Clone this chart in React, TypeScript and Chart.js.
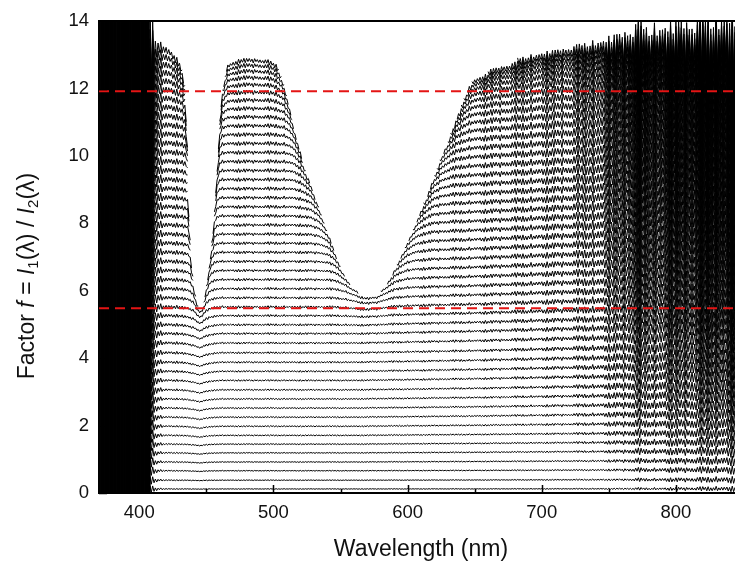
import React, { useEffect, useRef } from "react";
import { Chart, registerables } from "chart.js";

Chart.register(...registerables);

// ---------- data ----------
const xRange = [370, 850]; // nm
const xMajorTicks = [400, 500, 600, 700, 800];
const xMinorTicks = [450, 550, 650, 750];
const yMajorTicks = [0, 2, 4, 6, 8, 10, 12, 14];

// flat level of each measured curve (factor f)
const curveLevels = [
  0.12, 0.38, 0.66, 0.92, 1.19, 1.45, 1.71, 1.98, 2.25, 2.52, 2.79, 3.06, 3.34,
  3.61, 3.88, 4.16, 4.45, 4.73, 4.99, 5.26, 5.52, 5.79, 6.06, 6.33, 6.6, 6.87,
  7.14, 7.41, 7.68, 7.95, 8.22, 8.49, 8.76, 9.03, 9.3, 9.57, 9.84, 10.11, 10.38,
  10.65, 10.92, 11.19, 11.46, 11.73, 12.0, 12.27, 12.54, 12.81, 13.08, 13.35,
];

// upper limit where the curves bend down and stop (edges of the notches)
const capWavelengths = [
  370, 405, 412, 418, 424, 430, 434, 436, 437, 439, 441, 443, 445, 447, 449, 452,
  455, 458, 460, 462, 466, 476, 486, 496, 502, 506, 510, 516, 524, 533, 540, 546,
  552, 558, 565, 571, 578, 586, 595, 605, 615, 625, 635, 642, 648, 660, 680, 700,
  720, 750, 780, 850,
];
const capValues = [
  16, 16, 15, 14.6, 13.9, 13.2, 12.4, 10.5, 8.5, 7.0, 6.2, 5.75, 5.6, 5.65, 6.0,
  6.8, 8.0, 9.8, 11.3, 12.3, 13.1, 13.45, 13.45, 13.35, 13.1, 12.7, 12.1, 11.0,
  9.8, 8.8, 8.0, 7.3, 6.7, 6.3, 6.05, 5.98, 6.05, 6.45, 7.2, 8.1, 9.1, 10.2,
  11.2, 12.0, 12.5, 12.8, 13.1, 13.35, 13.55, 13.8, 14.0, 14.1,
];
const capCutRatio = 1.04;

// gentle wavelength dependence of the curves
const tiltWavelengths = [370, 430, 440, 445, 450, 458, 560, 650, 720, 760, 850];
const tiltValues = [1.0, 1.0, 0.985, 0.97, 0.985, 1.0, 1.0, 1.015, 1.03, 1.035, 1.035];

// noise amplitude (absolute + relative to f) along the spectrum
const noiseWavelengths = [
  370, 403, 406, 408, 411, 416, 425, 440, 460, 560, 650, 720, 745, 760, 772, 778,
  790, 810, 830, 850,
];
const noiseRelative = [
  4, 4, 1.0, 0.1, 0.03, 0.012, 0.008, 0.006, 0.005, 0.005, 0.007, 0.013, 0.022,
  0.035, 0.06, 0.04, 0.05, 0.06, 0.075, 0.09,
];
const noiseAbsolute = [
  200, 200, 20, 0.12, 0.08, 0.03, 0.012, 0.01, 0.01, 0.01, 0.01, 0.012, 0.015,
  0.02, 0.035, 0.03, 0.04, 0.05, 0.065, 0.08,
];
// relative size of the spectral noise spikes (same for every curve)
const jitterShape = [
  1, 0.5, 0.8, 0.35, 0.9, 0.6, 0.4, 0.75, 1, 0.45, 0.65, 0.85, 0.5, 0.7, 0.38,
  0.95, 0.55, 0.8, 0.42, 0.6, 0.88, 0.5, 0.98,
];

// red dashed reference levels
const referenceLevels = [11.92, 5.48];

const sampleStepNm = 1;
const bendSharpness = 16;

// ---------- helpers ----------
function interp(xs: number[], ys: number[], x: number): number {
  if (x <= xs[0]) return ys[0];
  for (let i = 1; i < xs.length; i++) {
    if (x <= xs[i]) {
      const t = (x - xs[i - 1]) / (xs[i] - xs[i - 1]);
      return ys[i - 1] + t * (ys[i] - ys[i - 1]);
    }
  }
  return ys[ys.length - 1];
}

const FONT = "'Liberation Sans', Arial, Helvetica, sans-serif";

function buildDatasets() {
  const wl: number[] = [];
  for (let w = xRange[0]; w <= xRange[1]; w += sampleStepNm) wl.push(w);
  const sets: any[] = [];
  curveLevels.forEach((level) => {
    const pts = wl.map((w, j) => {
      const base = level * interp(tiltWavelengths, tiltValues, w);
      const cap = interp(capWavelengths, capValues, w);
      const r = base / cap;
      if (r > capCutRatio) return { x: w, y: null };
      const f = base / Math.pow(1 + Math.pow(r, bendSharpness), 1 / bendSharpness);
      const amp =
        interp(noiseWavelengths, noiseAbsolute, w) +
        interp(noiseWavelengths, noiseRelative, w) * f;
      const sign = j % 2 === 0 ? 1 : -1;
      const s = sign * jitterShape[(j * 7) % jitterShape.length];
      return { x: w, y: f + amp * s };
    });
    sets.push({
      data: pts,
      borderColor: "#000",
      borderWidth: 1,
      pointRadius: 0,
      tension: 0,
      fill: false,
      spanGaps: false,
      order: 1,
    });
  });
  referenceLevels.forEach((v) => {
    sets.push({
      data: [
        { x: xRange[0], y: v },
        { x: xRange[1], y: v },
      ],
      borderColor: "rgb(228,20,20)",
      borderWidth: 2,
      borderDash: [10, 6],
      pointRadius: 0,
      fill: false,
      order: 0,
    });
  });
  return sets;
}

const tickMarksPlugin = {
  id: "tickMarks",
  afterDatasetsDraw(chart: any) {
    const { ctx, chartArea, scales } = chart;
    const x = scales.x;
    const y = scales.y;
    ctx.save();
    ctx.strokeStyle = "#000";
    ctx.lineWidth = 1.5;
    ctx.beginPath();
    xMajorTicks.forEach((v) => {
      const px = Math.round(x.getPixelForValue(v)) + 0.5;
      ctx.moveTo(px, chartArea.bottom);
      ctx.lineTo(px, chartArea.bottom - 8);
    });
    xMinorTicks.forEach((v) => {
      const px = Math.round(x.getPixelForValue(v)) + 0.5;
      ctx.moveTo(px, chartArea.bottom);
      ctx.lineTo(px, chartArea.bottom - 4);
    });
    yMajorTicks.forEach((v) => {
      const py = Math.round(y.getPixelForValue(v)) + 0.5;
      ctx.moveTo(chartArea.left, py);
      ctx.lineTo(chartArea.left + 8, py);
    });
    ctx.stroke();
    ctx.restore();
  },
};

const yTitlePlugin = {
  id: "yTitle",
  afterDraw(chart: any) {
    const { ctx } = chart;
    const size = 23;
    const sub = 15;
    const parts: { t: string; italic?: boolean; sub?: boolean }[] = [
      { t: "Factor " },
      { t: "f", italic: true },
      { t: " = " },
      { t: "I", italic: true },
      { t: "1", sub: true },
      { t: "(λ) / " },
      { t: "I", italic: true },
      { t: "2", sub: true },
      { t: "(λ)" },
    ];
    const fontFor = (p: any) =>
      `${p.italic ? "italic " : ""}${p.sub ? sub : size}px ${FONT}`;
    ctx.save();
    let total = 0;
    const widths = parts.map((p) => {
      ctx.font = fontFor(p);
      const w = ctx.measureText(p.t).width;
      total += w;
      return w;
    });
    ctx.translate(26, 276);
    ctx.rotate(-Math.PI / 2);
    ctx.fillStyle = "#111";
    ctx.textBaseline = "alphabetic";
    let cx = -total / 2;
    parts.forEach((p, i) => {
      ctx.font = fontFor(p);
      ctx.fillText(p.t, cx, p.sub ? 12 : 8);
      cx += widths[i];
    });
    ctx.restore();
  },
};

export default function App() {
  const ref = useRef<HTMLCanvasElement | null>(null);
  useEffect(() => {
    if (!ref.current) return;
    const chart = new Chart(ref.current, {
      type: "line",
      data: { datasets: buildDatasets() },
      options: {
        responsive: false,
        animation: false,
        events: [],
        layout: { padding: { left: 0, right: 17, top: 19, bottom: 0 } },
        plugins: {
          legend: { display: false },
          tooltip: { enabled: false },
          title: { display: false },
        },
        scales: {
          x: {
            type: "linear",
            position: "bottom",
            min: xRange[0],
            max: xRange[1],
            grid: { display: false, drawTicks: false },
            border: { display: true, color: "#000", width: 2 },
            afterBuildTicks: (s: any) => {
              s.ticks = xMajorTicks.map((v) => ({ value: v }));
            },
            afterFit: (s: any) => {
              s.height = 72;
            },
            ticks: {
              autoSkip: false,
              maxRotation: 0,
              padding: 9,
              color: "#111",
              font: { size: 18.5, family: FONT },
            },
            title: {
              display: true,
              text: "Wavelength (nm)",
              color: "#111",
              font: { size: 23, family: FONT },
              padding: { top: 0, bottom: 2 },
            },
          },
          xTop: {
            type: "linear",
            position: "top",
            min: xRange[0],
            max: xRange[1],
            grid: { display: false, drawTicks: false },
            ticks: { display: false },
            border: { display: true, color: "#000", width: 2 },
            afterFit: (s: any) => {
              s.height = 0;
            },
          },
          y: {
            type: "linear",
            min: 0,
            max: 14,
            grid: { display: false, drawTicks: false },
            border: { display: true, color: "#000", width: 2 },
            afterBuildTicks: (s: any) => {
              s.ticks = yMajorTicks.map((v) => ({ value: v }));
            },
            afterFit: (s: any) => {
              s.width = 99;
            },
            ticks: {
              padding: 10,
              color: "#111",
              font: { size: 18.5, family: FONT },
            },
          },
        },
      } as any,
      plugins: [tickMarksPlugin, yTitlePlugin],
    });
    return () => chart.destroy();
  }, []);

  return (
    <div
      style={{
        position: "fixed",
        left: 0,
        top: 0,
        width: 735,
        height: 565,
        overflow: "hidden",
        background: "#fff",
      }}
    >
      <canvas ref={ref} width={760} height={565} style={{ display: "block" }} />
    </div>
  );
}
